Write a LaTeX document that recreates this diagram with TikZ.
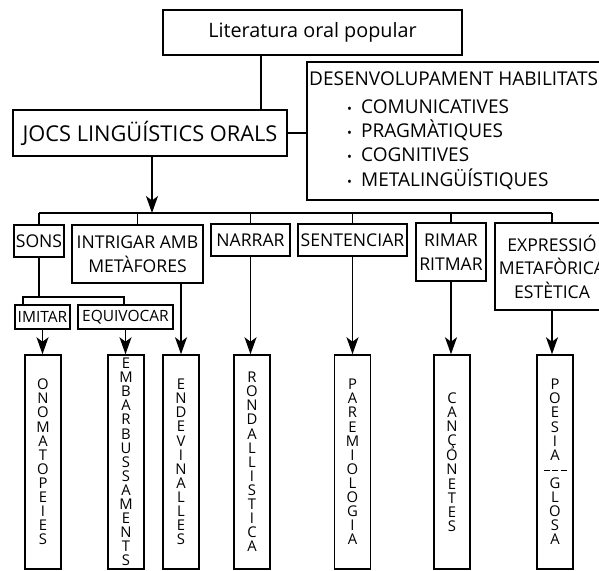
\documentclass[tikz,border=0pt]{standalone}
\usepackage{fontspec}
\setmainfont{Open Sans}
\usetikzlibrary{arrows.meta}
\newcommand\fs[1]{\fontsize{#1}{#1}\selectfont}
\newcommand\dashsep{\raisebox{3.5pt}{\rule{6pt}{0.9pt}\hspace{2.5pt}\rule{6pt}{0.9pt}\hspace{2.5pt}\rule{6pt}{0.9pt}}}
\newcommand\bul{\makebox[14pt][l]{\fs{13}•}}
\begin{document}
\begin{tikzpicture}[x=1pt,y=-1pt,
  box/.style={draw, line width=1.5pt, inner sep=0pt, align=center},
  midbox/.style={box, font=\fontsize{17.6}{23.5}\selectfont},
  smallbox/.style={box, font=\fs{15.5}},
  colbox/.style={box, minimum width=36, minimum height=214, font=\fontsize{14.8}{14.1}\selectfont},
  txt/.style={anchor=base west, inner sep=0pt, font=\fs{19}},
  lnk/.style={line width=1.6pt},
  arr/.style={line width=1.6pt, -{Stealth[length=17pt,width=12pt,inset=4.5pt]}}
]
\useasboundingbox (0,0) rectangle (599,570);
\clip (0,0) rectangle (599,570);
\fill[white] (0,0) rectangle (599,570);

% top level
\node[box, minimum width=299, minimum height=45, font=\fs{19.8}] (lit) at (312.5,32.5) {Literatura oral popular};
\node[box, minimum width=274, minimum height=46, font=\fs{21.8}] (jocs) at (150,133) {JOCS LINGÜÍSTICS ORALS};
\node[box, minimum width=308, minimum height=138] (des) at (461,131) {};
\node[txt] (d0) at (309,85) {DESENVOLUPAMENT HABILITATS};
\node[txt] (d1) at (347,113) {\bul COMUNICATIVES};
\node[txt] (d2) at (347,137) {\bul PRAGMÀTIQUES};
\node[txt] (d3) at (347,161) {\bul COGNITIVES};
\node[txt] (d4) at (347,186) {\bul METALINGÜÍSTIQUES};

\coordinate (c1) at (261,0);
\draw[lnk] (lit.south -| c1) -- (jocs.north -| c1);
\draw[lnk] (jocs.east) -- (des.west |- jocs.east);

% second level
\node[midbox, minimum width=50, minimum height=32] (sons) at (39,241) {SONS};
\node[midbox, minimum width=131, minimum height=58] (intr) at (137.5,254) {INTRIGAR AMB\\METÀFORES};
\node[midbox, minimum width=79, minimum height=32] (narr) at (250.5,240) {NARRAR};
\node[midbox, minimum width=109, minimum height=32] (sent) at (352.5,240) {SENTENCIAR};
\node[midbox, minimum width=70, minimum height=58] (rim) at (451,252) {RIMAR\\RITMAR};
\node[midbox, minimum width=114, minimum height=87] (expr) at (552,266.5) {EXPRESSIÓ\\METAFÒRICA\\ESTÈTICA};

\coordinate (bar) at (0,213);
\coordinate (ja) at (152,213);
\draw[arr] (jocs.south -| ja) -- (ja);
\draw[lnk] (sons.north |- bar) -- (expr.north |- bar);
\foreach \n in {sons,intr,narr,sent,rim,expr}
  \draw[lnk] (\n.north |- bar) -- (\n.north);

% third level
\node[smallbox, minimum width=55, minimum height=24] (imit) at (42.5,317) {IMITAR};
\node[smallbox, minimum width=95, minimum height=24] (equi) at (125.5,317) {EQUIVOCAR};
\coordinate (s1) at (23,297);
\coordinate (s2) at (124,297);
\draw[lnk] (sons.south) -- (sons.south |- s1);
\draw[lnk] (imit.north -| s1) -- (s1) -- (s2) -- (equi.north -| s2);

% bottom columns
\node[colbox] (ono) at (43,462) {O\\N\\O\\M\\A\\T\\O\\P\\E\\I\\E\\S};
\node[colbox] (emb) at (126,462) {E\\M\\B\\A\\R\\B\\U\\S\\S\\A\\M\\E\\N\\T\\S};
\node[colbox] (endv) at (181,462) {E\\N\\D\\E\\V\\I\\N\\A\\L\\L\\E\\S};
\node[colbox] (rond) at (252,462) {R\\O\\N\\D\\A\\L\\L\\I\\S\\T\\I\\C\\A};
\node[colbox] (par) at (352.5,462) {P\\A\\R\\E\\M\\I\\O\\L\\O\\G\\I\\A};
\node[colbox] (canc) at (452,462) {C\\A\\N\\Ç\\O\\N\\E\\T\\E\\S};
\node[colbox] (poes) at (555,462) {P\\O\\E\\S\\I\\A\\\dashsep\\G\\L\\O\\S\\A};

\draw[arr] (imit.south) -- (imit.south |- ono.north);
\draw[arr] (equi.south) -- (equi.south |- emb.north);
\draw[arr] (intr.south -| endv.north) -- (endv.north);
\draw[arr] (narr.south) -- (narr.south |- rond.north);
\draw[arr] (sent.south) -- (sent.south |- par.north);
\draw[arr] (rim.south) -- (rim.south |- canc.north);
\draw[arr] (expr.south) -- (expr.south |- poes.north);
\end{tikzpicture}
\end{document}
